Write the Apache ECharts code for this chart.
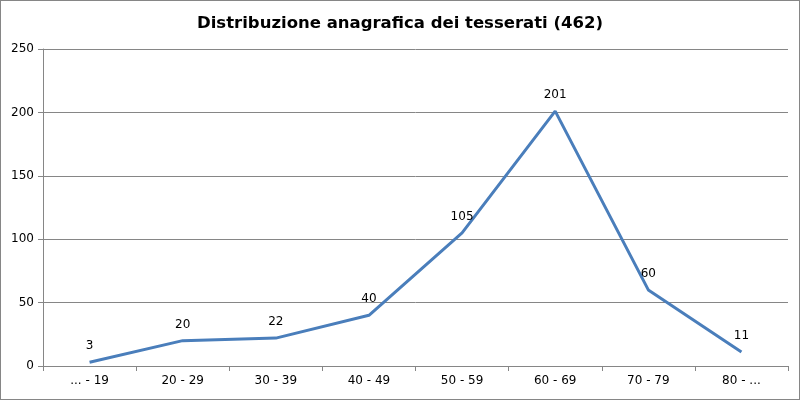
<!DOCTYPE html>
<html><head><meta charset="utf-8">
<script src="https://cdn.jsdelivr.net/npm/echarts@6/dist/echarts.min.js"></script>
<style>html,body{margin:0;padding:0;background:#fff}#c{width:800px;height:400px;box-sizing:border-box;border:1px solid #868686}</style>
</head><body><div id="c"></div>
<script>
const categories = ['... - 19','20 - 29','30 - 39','40 - 49','50 - 59','60 - 69','70 - 79','80 - ...'];
const values = [3, 20, 22, 40, 105, 201, 60, 11];
const titleText = 'Distribuzione anagrafica dei tesserati (462)';
const chart = echarts.init(document.getElementById('c'), null, {renderer:'canvas'});
chart.setOption({
  animation:false,
  title:{text:titleText,left:'center',top:9,textStyle:{fontFamily:'DejaVu Sans',fontWeight:'bold',fontSize:16.5,color:'#000'}},
  grid:{left:42,right:11,top:48,bottom:33,containLabel:false},
  xAxis:{type:'category',data:categories,boundaryGap:true,
    axisLine:{lineStyle:{color:'#868686',width:1}},
    axisTick:{show:true,length:5,lineStyle:{color:'#868686'}},
    axisLabel:{color:'#000',fontFamily:'DejaVu Sans',fontSize:12,margin:9}},
  yAxis:{type:'value',min:0,max:250,interval:50,
    axisLine:{show:true,lineStyle:{color:'#868686'}},
    axisTick:{show:true,length:5,lineStyle:{color:'#868686'}},
    splitLine:{lineStyle:{color:'#868686',width:1}},
    axisLabel:{color:'#000',fontFamily:'DejaVu Sans',fontSize:12,margin:9}},
  series:[{type:'line',data:values,symbol:'circle',symbolSize:0,showSymbol:true,
    itemStyle:{color:'#4a7ebb'},
    lineStyle:{color:'#4a7ebb',width:3},
    label:{show:true,position:'top',distance:10,color:'#000',fontFamily:'DejaVu Sans',fontSize:12}}]
});
</script></body></html>
